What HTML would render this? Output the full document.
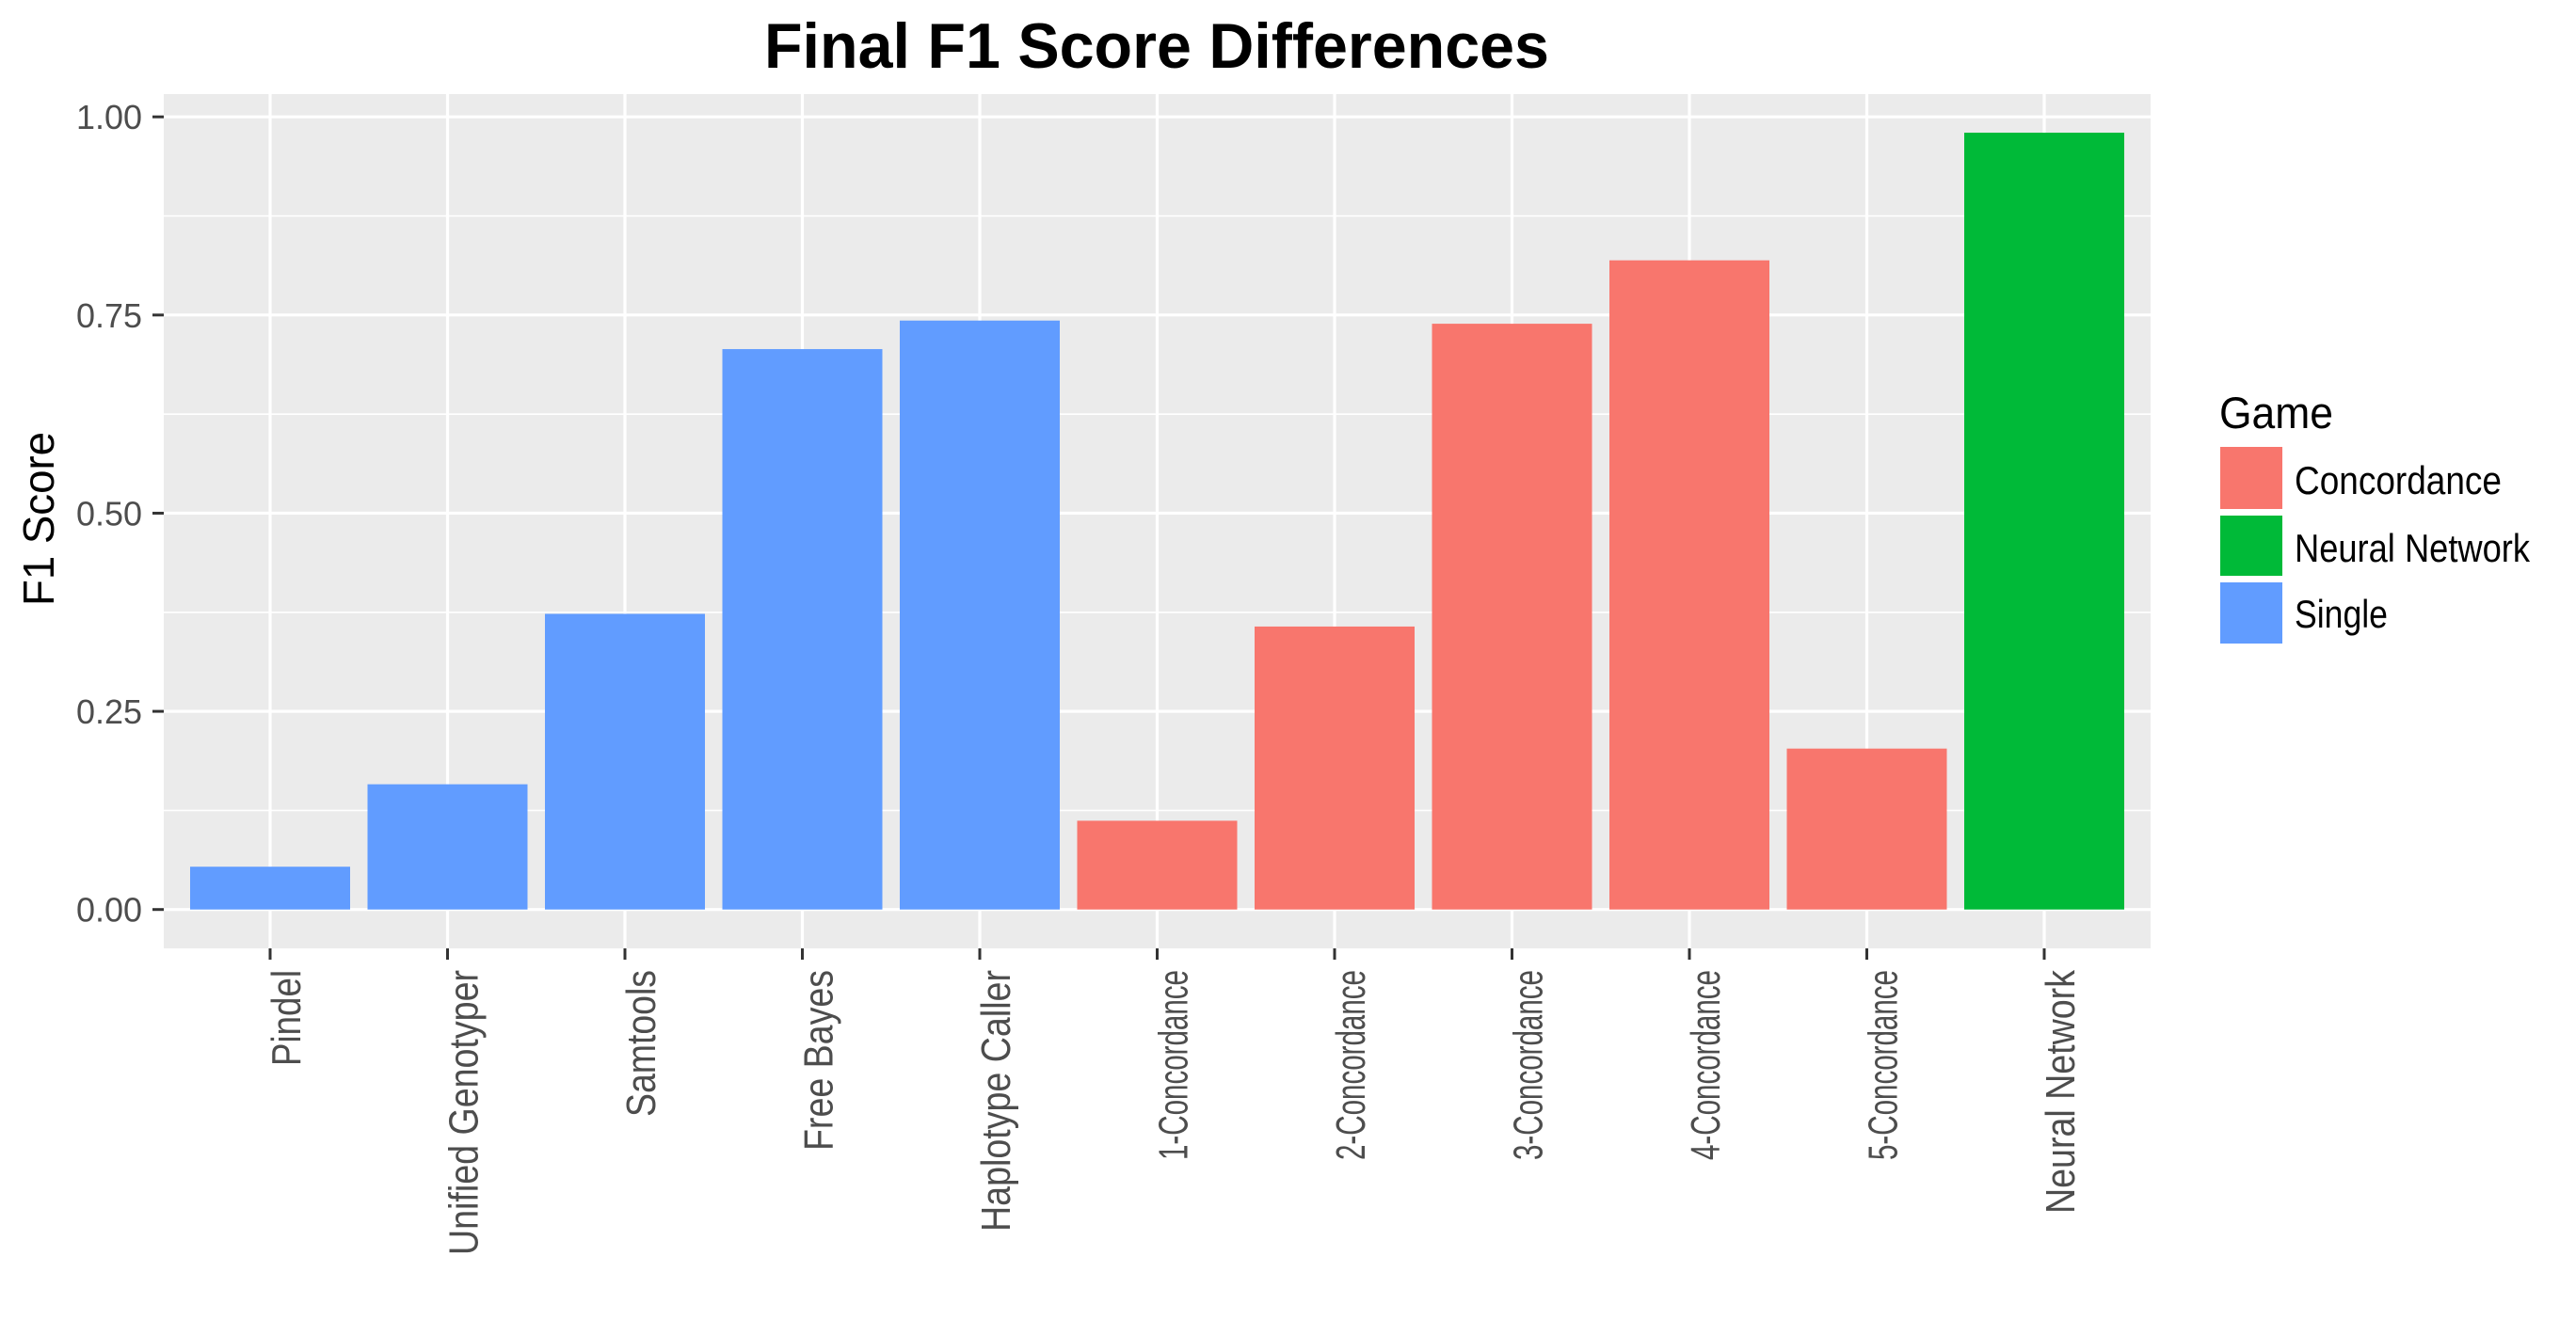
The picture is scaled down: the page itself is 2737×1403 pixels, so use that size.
<!DOCTYPE html>
<html><head><meta charset="utf-8"><style>
html,body{margin:0;padding:0;background:#fff;}
svg{display:block;font-family:"Liberation Sans",sans-serif;}
</style></head><body>
<svg id="chart" width="2737" height="1403" viewBox="0 0 2737 1403" xmlns="http://www.w3.org/2000/svg">
<rect x="0" y="0" width="2737" height="1403" fill="#fff"/>
<text x="812" y="72" font-size="68" font-weight="bold" textLength="834" lengthAdjust="spacingAndGlyphs" fill="#000">Final F1 Score Differences</text>
<rect x="174" y="100" width="2111" height="908" fill="#ebebeb"/>
<g id="grid"></g>
<g id="bars"></g>
<g id="axes"></g>
<text transform="translate(57,644) rotate(-90)" font-size="46" textLength="185" lengthAdjust="spacingAndGlyphs" fill="#000">F1 Score</text>
<g id="legend">
<text x="2358" y="455" font-size="47" textLength="121" lengthAdjust="spacingAndGlyphs" fill="#000">Game</text>
<rect x="2359" y="475" width="66" height="66" fill="#F8766D"/>
<rect x="2359" y="548" width="66" height="64" fill="#00BA38"/>
<rect x="2359" y="619" width="66" height="65" fill="#619CFF"/>
<text x="2438" y="525" font-size="42" textLength="220" lengthAdjust="spacingAndGlyphs" fill="#000">Concordance</text>
<text x="2438" y="597" font-size="42" textLength="250" lengthAdjust="spacingAndGlyphs" fill="#000">Neural Network</text>
<text x="2438" y="667" font-size="42" textLength="99" lengthAdjust="spacingAndGlyphs" fill="#000">Single</text>
</g>
</svg>
<script>
const categories = ["Pindel","Unified Genotyper","Samtools","Free Bayes","Haplotype Caller","1-Concordance","2-Concordance","3-Concordance","4-Concordance","5-Concordance","Neural Network"];
const values = [0.054,0.158,0.373,0.707,0.743,0.112,0.357,0.739,0.819,0.203,0.980];
const groups = ["Single","Single","Single","Single","Single","Concordance","Concordance","Concordance","Concordance","Concordance","Neural Network"];
const yTicks = [0,0.25,0.5,0.75,1.0];
const yTickLabels = ["0.00","0.25","0.50","0.75","1.00"];
const labelLengths = [102,303,156,192,278,202,202,202,202,202,259];

const NS = "http://www.w3.org/2000/svg";
const colors = {"Single":"#619CFF","Concordance":"#F8766D","Neural Network":"#00BA38"};
const panelL = 174, panelR = 2285, panelT = 100, panelB = 1008;
const y0 = 966.7, y1 = 124.2;
function yScale(v){ return y0 + (y1 - y0) * v; }
const step = 188.5, firstX = 287, barW = 170;
function xScale(i){ return firstX + i * step; }
function mk(tag, attrs){ const e = document.createElementNS(NS, tag); for (const k in attrs) e.setAttribute(k, attrs[k]); return e; }

const grid = document.getElementById('grid');
const bars = document.getElementById('bars');
const axes = document.getElementById('axes');

for (let i = 0; i < yTicks.length - 1; i++) {
  const m = (yTicks[i] + yTicks[i+1]) / 2;
  const l = mk('line', {x1: panelL, x2: panelR, y1: yScale(m), y2: yScale(m), stroke: '#fff', 'stroke-width': 1.6});
  
  
  grid.appendChild(l);
}
yTicks.forEach((t, i) => {
  const y = yScale(t);
  const l = mk('line', {x1: panelL, x2: panelR, y1: y, y2: y, stroke: '#fff', 'stroke-width': 3.2});
  
  
  grid.appendChild(l);
  const tk = mk('line', {x1: 162, x2: panelL, y1: y, y2: y, stroke: '#333', 'stroke-width': 3});
  
  
  axes.appendChild(tk);
  const tx = mk('text', {x: 151, y: y + 13, 'text-anchor': 'end', 'font-size': 36, fill: '#4d4d4d', textLength: 70, lengthAdjust: 'spacingAndGlyphs'});
  tx.textContent = yTickLabels[i];
  
  
  axes.appendChild(tx);
});
categories.forEach((c, i) => {
  const x = xScale(i);
  const l = mk('line', {x1: x, x2: x, y1: panelT, y2: panelB, stroke: '#fff', 'stroke-width': 3.2});
  
  
  grid.appendChild(l);
  const top = yScale(values[i]);
  const r = mk('rect', {x: x - barW/2, y: top, width: barW, height: y0 - top, fill: colors[groups[i]]});
  
  
  bars.appendChild(r);
  const tk = mk('line', {x1: x, x2: x, y1: panelB, y2: panelB + 12, stroke: '#333', 'stroke-width': 3});
  
  
  axes.appendChild(tk);
  const tx = mk('text', {transform: 'translate(' + (x + 32) + ',1031) rotate(-90)', 'text-anchor': 'end', 'font-size': 44, fill: '#4d4d4d', textLength: labelLengths[i], lengthAdjust: 'spacingAndGlyphs'});
  tx.textContent = c;
  
  
  axes.appendChild(tx);
});
</script>
</body></html>
